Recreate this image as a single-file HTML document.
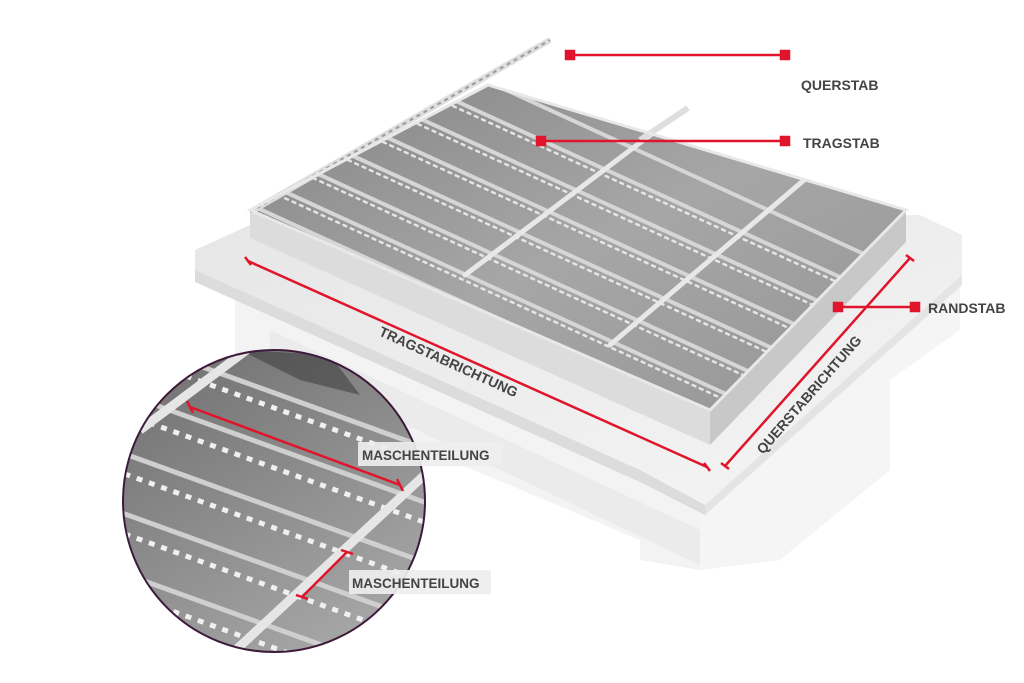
<!DOCTYPE html>
<html><head><meta charset="utf-8"><style>
html,body{margin:0;padding:0;background:#fff;}
svg{display:block;}
text{font-family:"Liberation Sans",sans-serif;font-weight:bold;fill:#444;}
</style></head><body>
<svg width="1024" height="683" viewBox="0 0 1024 683" xmlns="http://www.w3.org/2000/svg">
<defs>
<linearGradient id="plate" x1="0" y1="0" x2="1" y2="1">
<stop offset="0" stop-color="#e6e6e6"/><stop offset="1" stop-color="#f5f5f5"/></linearGradient>
<linearGradient id="top" x1="0" y1="0" x2="1" y2="1">
<stop offset="0" stop-color="#858585"/><stop offset="0.5" stop-color="#a6a6a6"/><stop offset="1" stop-color="#959595"/></linearGradient>
<linearGradient id="circ" x1="0" y1="0" x2="0.6" y2="1">
<stop offset="0" stop-color="#6e6e6e"/><stop offset="1" stop-color="#a4a4a4"/></linearGradient>
<clipPath id="gclip"><polygon points="250,210 488,85 906,210 710,410"/></clipPath>
<clipPath id="cclip"><circle cx="274" cy="501" r="151"/></clipPath>
</defs>
<!-- beams / support -->
<polygon points="235,285 290,270 700,470 700,570 640,560 640,540 260,380 235,370" fill="#f3f3f3"/>
<polygon points="700,470 960,280 960,330 890,380 890,470 780,560 700,570" fill="#f5f5f5"/>
<polygon points="270,330 700,530 700,565 270,360" fill="#ebebeb"/>
<!-- plate -->
<polygon points="195,250 250,225 920,215 962,235 962,275 705,505 640,470 195,270" fill="url(#plate)"/>
<polygon points="195,270 640,470 705,505 705,515 640,482 195,282" fill="#dcdcdc"/>
<polygon points="705,505 962,275 962,285 705,515" fill="#e4e4e4"/>
<!-- grating sides -->
<polygon points="250,210 710,410 710,445 250,238" fill="#dcdcdc"/>
<polygon points="710,410 906,210 906,242 710,445" fill="#c8c8c8"/>
<!-- grating top -->
<polygon points="250,210 488,85 906,210 710,410" fill="url(#top)"/>
<g clip-path="url(#gclip)" stroke-linecap="round">
<g stroke="#d6d6d6" stroke-width="4">
<line x1="240" y1="200" x2="720" y2="420"/>
<line x1="270" y1="185" x2="750" y2="405"/>
<line x1="305" y1="168" x2="785" y2="388"/>
<line x1="340" y1="150" x2="820" y2="370"/>
<line x1="375" y1="132" x2="855" y2="352"/>
<line x1="410" y1="114" x2="890" y2="334"/>
<line x1="445" y1="96" x2="925" y2="316"/>
<line x1="480" y1="78" x2="960" y2="298"/>
</g>
<g stroke="#eeeeee" stroke-width="2.5" stroke-dasharray="3 5" opacity="0.9">
<line x1="248" y1="210" x2="728" y2="430"/>
<line x1="278" y1="195" x2="758" y2="415"/>
<line x1="313" y1="178" x2="793" y2="398"/>
<line x1="348" y1="160" x2="828" y2="380"/>
<line x1="383" y1="142" x2="863" y2="362"/>
<line x1="418" y1="124" x2="898" y2="344"/>
<line x1="453" y1="106" x2="933" y2="326"/>
</g>
<g stroke="#e8e8e8" stroke-width="5">
<line x1="465" y1="275" x2="690" y2="105"/>
<line x1="610" y1="345" x2="810" y2="175"/>
</g>
</g>
<!-- protruding cross bars -->
<line x1="250" y1="212" x2="550" y2="40" stroke="#dedede" stroke-width="6"/>
<line x1="250" y1="212" x2="550" y2="40" stroke="#9a9a9a" stroke-width="2" stroke-dasharray="4 4"/>
<line x1="640" y1="140" x2="688" y2="108" stroke="#dedede" stroke-width="6"/>
<!-- rim -->
<polygon points="250,210 488,85 906,210 710,410" fill="none" stroke="#e8e8e8" stroke-width="3"/>
<!-- red callouts -->
<g stroke="#e0142b" stroke-width="2.5" fill="#e0142b">
<line x1="570" y1="55" x2="785" y2="55"/><rect x="566" y="51" width="8" height="8"/><rect x="781" y="51" width="8" height="8"/>
<line x1="541" y1="141" x2="785" y2="141"/><rect x="537" y="137" width="8" height="8"/><rect x="781" y="137" width="8" height="8"/>
<line x1="838" y1="307" x2="915" y2="307"/><rect x="834" y="303" width="8" height="8"/><rect x="911" y="303" width="8" height="8"/>
<line x1="248" y1="261" x2="707" y2="467"/>
<line x1="245" y1="257" x2="251" y2="265"/><line x1="704" y1="463" x2="710" y2="471"/>
<line x1="910" y1="258" x2="725" y2="466"/>
<line x1="906" y1="255" x2="914" y2="261"/><line x1="721" y1="463" x2="729" y2="469"/>
</g>
<text x="801" y="90" font-size="14">QUERSTAB</text>
<text x="803" y="148" font-size="14">TRAGSTAB</text>
<text x="928" y="313" font-size="14">RANDSTAB</text>
<text transform="translate(378,335) rotate(24.5)" font-size="14">TRAGSTABRICHTUNG</text>
<text transform="translate(763,455) rotate(-49)" font-size="14">QUERSTABRICHTUNG</text>
<!-- magnifier -->
<circle cx="274" cy="501" r="151" fill="url(#circ)"/>
<g clip-path="url(#cclip)">
<g stroke="#cfcfcf" stroke-width="5">
<line x1="100" y1="330" x2="460" y2="460"/>
<line x1="100" y1="385" x2="460" y2="515"/>
<line x1="100" y1="445" x2="460" y2="575"/>
<line x1="100" y1="505" x2="460" y2="635"/>
<line x1="100" y1="565" x2="460" y2="695"/>
</g>
<g stroke="#f0f0f0" stroke-width="5" stroke-dasharray="6 7">
<line x1="100" y1="345" x2="460" y2="475"/>
<line x1="100" y1="405" x2="460" y2="535"/>
<line x1="100" y1="465" x2="460" y2="595"/>
<line x1="100" y1="525" x2="460" y2="655"/>
<line x1="100" y1="585" x2="460" y2="715"/>
</g>
<path d="M240,350 L330,355 L360,395 L300,380 Z" fill="#333" opacity="0.5"/>
<g stroke="#e6e6e6" stroke-width="9">
<line x1="225" y1="660" x2="430" y2="470"/>
<line x1="140" y1="430" x2="260" y2="340"/>
</g>
</g>
<circle cx="274" cy="501" r="151" fill="none" stroke="#3e1a3a" stroke-width="2"/>
<g stroke="#e0142b" stroke-width="2.5">
<line x1="190" y1="407" x2="400" y2="485"/>
<line x1="187" y1="401" x2="193" y2="413"/><line x1="397" y1="479" x2="403" y2="491"/>
<line x1="302" y1="597" x2="347" y2="552"/>
<line x1="296" y1="595" x2="308" y2="599"/><line x1="341" y1="550" x2="353" y2="554"/>
</g>
<rect x="358" y="442" width="145" height="24" fill="#eeeeee" opacity="0.92"/>
<text x="362" y="460" font-size="13.5">MASCHENTEILUNG</text>
<rect x="349" y="570" width="142" height="24" fill="#eeeeee" opacity="0.92"/>
<text x="352" y="588" font-size="13.5">MASCHENTEILUNG</text>
</svg>
</body></html>
